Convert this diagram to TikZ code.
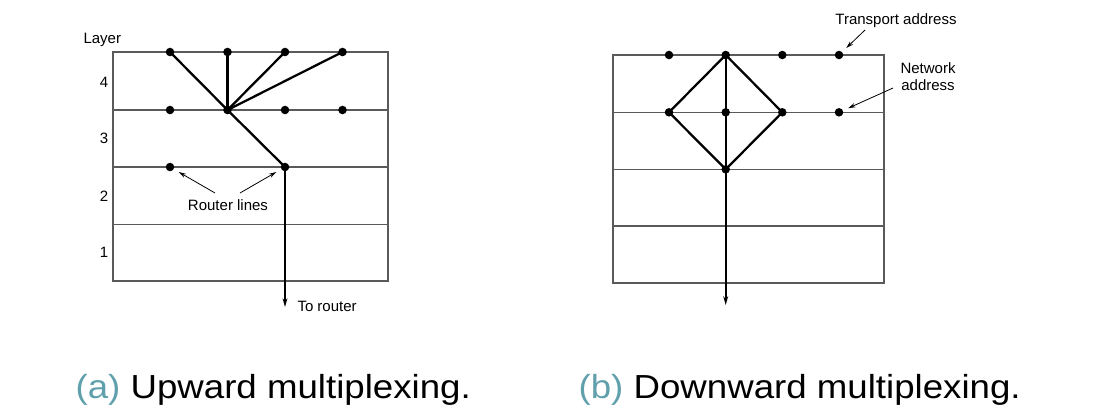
\documentclass[tikz,border=0pt]{standalone}
\usepackage{fontspec}
\setmainfont{Liberation Sans}
\usetikzlibrary{arrows.meta}

\definecolor{capteal}{RGB}{95,160,172}
\definecolor{framegray}{RGB}{90,90,90}

\tikzset{every picture/.style={line width=0.75pt}}
\tikzset{
  dot/.style={circle,fill=black,inner sep=0pt,minimum size=6.4pt},
  wire/.style={line width=1.7pt},
  layerline/.style={color=framegray,line width=0.8pt},
  callout/.style={line width=0.6pt,-{Stealth[length=5.5pt,width=3.2pt]},shorten >=4pt},
  downarrow/.style={wire,-{Stealth[length=6.5pt,width=3.6pt]}},
  smalltext/.style={inner sep=0.75pt,font=\fontsize{11.25}{12.5}\selectfont},
  captext/.style={inner sep=0pt,xscale=1.1,font=\fontsize{25}{29}\selectfont}
}

\begin{document}
\begin{tikzpicture}[x=0.75pt,y=0.75pt,yscale=-1,xscale=1]
\useasboundingbox (0,0) rectangle (1098,408);

%%% (a) upward multiplexing
%Shape: Rectangle
\draw [layerline] (113,52) rectangle (388,281) ;
%Straight Lines
\draw [layerline] (113,110) -- (388,110) ;
\draw [layerline] (113,167) -- (388,167) ;
\draw [layerline] (113,224.5) -- (388,224.5) ;

%Shape: Circle
\node [dot] (a41) at (170,52) {};
\node [dot] (a42) at (227.5,52) {};
\node [dot] (a43) at (285,52) {};
\node [dot] (a44) at (342.5,52) {};
\node [dot] (a31) at (170,110) {};
\node [dot] (a32) at (227.5,110) {};
\node [dot] (a33) at (285,110) {};
\node [dot] (a34) at (342.5,110) {};
\node [dot] (a21) at (170,167) {};
\node [dot] (a22) at (285,167) {};
\coordinate (aout) at (285,307);

%Straight Lines
\draw [wire] (a32.center) -- (a41.center) ;
\draw [wire] (a32.center) -- (a42.center) ;
\draw [wire] (a32.center) -- (a43.center) ;
\draw [wire] (a32.center) -- (a44.center) ;
\draw [wire] (a32.center) -- (a22.center) ;
\draw [downarrow] (a22.center) -- (aout) ;

% Text Node
\node [smalltext,anchor=west] (layer) at (82,40) {Layer};
\node [smalltext] (l4) at (104,82) {4};
\node [smalltext] (l3) at (104,138) {3};
\node [smalltext] (l2) at (104,196) {2};
\node [smalltext] (l1) at (104,252) {1};
\node [smalltext,anchor=west] (torouter) at (296,306) {To router};
\node [smalltext] (rlines) at (228,205) {Router lines};

\coordinate (rlA) at (215,193);
\coordinate (rlB) at (240,193);
\draw [callout] (rlA) -- (a21) ;
\draw [callout] (rlB) -- (a22) ;

%%% (b) downward multiplexing
%Shape: Rectangle
\draw [layerline] (613,55) rectangle (884,283) ;
%Straight Lines
\draw [layerline] (613,112.3) -- (884,112.3) ;
\draw [layerline] (613,169.3) -- (884,169.3) ;
\draw [layerline] (613,226) -- (884,226) ;

%Shape: Circle
\node [dot] (b41) at (669,55) {};
\node [dot] (b42) at (725.7,55) {};
\node [dot] (b43) at (782.3,55) {};
\node [dot] (b44) at (839,55) {};
\node [dot] (b31) at (669,112.3) {};
\node [dot] (b32) at (725.7,112.3) {};
\node [dot] (b33) at (782.3,112.3) {};
\node [dot] (b34) at (839,112.3) {};
\node [dot] (b21) at (725.7,169.3) {};
\coordinate (bout) at (725.7,305);

%Straight Lines
\draw [wire] (b42.center) -- (b31.center) -- (b21.center) -- (b33.center) -- cycle ;
\draw [downarrow] (b42.center) -- (bout) ;

% Text Node
\node [smalltext] (transport) at (896,20.5) {Transport address};
\node [smalltext,align=center] (network) at (928,76.5) {Network\\address};

\coordinate (taddr) at (865,30);
\coordinate (naddr) at (893,88);
\draw [callout] (taddr) -- (b44) ;
\draw [callout] (naddr) -- (b34) ;

%%% captions
\node [captext,anchor=base west] (capa) at (75,398) {\textcolor{capteal}{(a)} Upward multiplexing.};
\node [captext,anchor=base west] (capb) at (578,398) {\textcolor{capteal}{(b)} Downward multiplexing.};

\end{tikzpicture}
\end{document}
